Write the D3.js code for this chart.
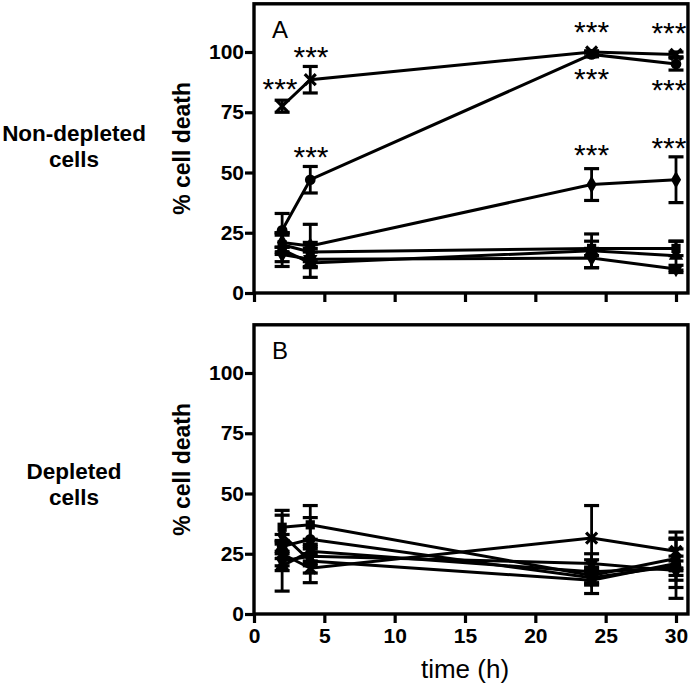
<!DOCTYPE html>
<html><head><meta charset="utf-8">
<script src="https://cdn.jsdelivr.net/npm/d3@7"></script>
<style>body{margin:0;background:#fff}svg{display:block}</style>
</head><body><svg id="c" width="693" height="686"></svg>
<script>
// ---- data ----
const times = [2, 4, 24, 30];
const xTicks = [0, 5, 10, 15, 20, 25, 30];
const yTicks = [0, 25, 50, 75, 100];

// Panel A: non-depleted cells
const aCircle = [26, 47, 99, 95];      const aCircleErr = [7, 5.5, 1, 2.5];
const aCross = [77.5, 88.5, 100, 99];  const aCrossErr = [2.5, 5.5, 0.5, 1];
const aDiamond = [21, 19.5, 45, 47];   const aDiamondErr = [4, 9, 6.6, 9.5];
const aSquare = [20, 17, 18.5, 18.5];  const aSquareErr = [4, 4, 3, 3];
const aTriUp = [18, 12.5, 17.5, 15.5]; const aTriUpErr = [7, 6, 7, 6];
const aTriDown = [16, 14, 14.5, 10];   const aTriDownErr = [3, 3, 4, 1.5];

// Panel B: depleted cells
const bCircle = [28, 31, 15, 20];      const bCircleErr = [5, 9, 3, 4];
const bSquare = [36, 37, 16, 23];      const bSquareErr = [7, 8, 3, 4];
const bTriUp = [20, 26, 17.5, 19];     const bTriUpErr = [10.5, 5, 5, 12.5];
const bTriDown = [22, 24, 21, 18];     const bTriDownErr = [4, 4, 4, 4];
const bDiamond = [33, 22, 14, 21];     const bDiamondErr = [8, 5, 5.5, 10];
const bCross = [25, 19, 31.5, 26];     const bCrossErr = [5, 6, 13.5, 8];

// significance marks (time, value at text centre)
const starsA = [[1.85, 87.5], [4.05, 100.8], [4.05, 59], [24, 111], [24, 91.3],
                [29.5, 110.4], [29.5, 87], [24, 60], [29.5, 62.7]];

// ---- drawing ----
const svg = d3.select('#c');
const x = d3.scaleLinear().domain([0, 30]).range([254, 676]);
const xEnd = 30.85;
const font = '"Liberation Sans", Arial, Helvetica, sans-serif';

function symbolPath(kind) {
  if (kind === 'circle') return d3.symbol(d3.symbolCircle, 90)();
  if (kind === 'square') return d3.symbol(d3.symbolSquare, 85)();
  if (kind === 'triUp') return d3.symbol(d3.symbolTriangle, 90)();
  if (kind === 'triDown') return d3.symbol(d3.symbolTriangle, 90)();
  if (kind === 'diamond') return d3.symbol(d3.symbolDiamond, 90)();
  return null;
}

function panel(yBottom, series, letter, stars) {
  const y = d3.scaleLinear().domain([0, 120]).range([yBottom, yBottom - 289.2]);
  const g = svg.append('g');
  // frame
  g.append('rect').attr('x', x(0)).attr('y', y(120)).attr('width', x(xEnd) - x(0))
    .attr('height', y(0) - y(120)).attr('fill', 'none').attr('stroke', '#000').attr('stroke-width', 3.4);
  // y axis
  const ya = g.append('g').attr('transform', `translate(${x(0)},0)`)
    .call(d3.axisLeft(y).tickValues(yTicks).tickSize(9).tickSizeOuter(0).tickPadding(1));
  ya.select('.domain').remove();
  ya.selectAll('line').attr('stroke-width', 3.2);
  ya.selectAll('text').attr('font-family', font).attr('font-weight', 'bold').attr('font-size', 21).attr('fill', '#000');
  // x axis
  const xa = g.append('g').attr('transform', `translate(0,${y(0)})`)
    .call(d3.axisBottom(x).tickValues(xTicks).tickSize(9).tickSizeOuter(0).tickPadding(5));
  xa.select('.domain').remove();
  xa.selectAll('line').attr('stroke-width', 3.2);
  if (letter === 'B') {
    xa.selectAll('text').attr('font-family', font).attr('font-weight', 'bold').attr('font-size', 21).attr('fill', '#000');
  } else {
    xa.selectAll('text').remove();
  }
  // letter
  g.append('text').attr('x', 272).attr('y', y(120) + 34).attr('font-family', font)
    .attr('font-size', 24).text(letter);
  // lines
  const line = d3.line().x((d, i) => x(times[i])).y(d => y(d));
  series.forEach(s => {
    g.append('path').attr('d', line(s.v)).attr('fill', 'none').attr('stroke', '#000').attr('stroke-width', 3);
  });
  // error bars
  series.forEach(s => {
    s.v.forEach((v, i) => {
      const cx = x(times[i]), e = s.e[i];
      const lo = y(v - e), hi = y(v + e);
      g.append('line').attr('x1', cx).attr('x2', cx).attr('y1', lo).attr('y2', hi).attr('stroke', '#000').attr('stroke-width', 2.8);
      [lo, hi].forEach(yy => g.append('line').attr('x1', cx - 7.5).attr('x2', cx + 7.5).attr('y1', yy).attr('y2', yy)
        .attr('stroke', '#000').attr('stroke-width', 3.2));
    });
  });
  // markers
  series.forEach(s => {
    s.v.forEach((v, i) => {
      const cx = x(times[i]), cy = y(v);
      if (s.k === 'cross') {
        const r = 5.5;
        g.append('path').attr('d', `M${cx - r},${cy - r}L${cx + r},${cy + r}M${cx - r},${cy + r}L${cx + r},${cy - r}`)
          .attr('stroke', '#000').attr('stroke-width', 3.2).attr('fill', 'none');
      } else {
        g.append('path').attr('d', symbolPath(s.k))
          .attr('transform', `translate(${cx},${cy})` + (s.k === 'triDown' ? ' rotate(180)' : ''))
          .attr('fill', '#000');
      }
    });
  });
  // stars
  stars.forEach(([t, v]) => {
    g.append('text').attr('x', x(t)).attr('y', y(v) + 16.5).attr('text-anchor', 'middle')
      .attr('font-family', font).attr('font-size', 30).text('***');
  });
  // y label
  g.append('text').attr('transform', `translate(190,${y(60)}) rotate(-90)`).attr('text-anchor', 'middle')
    .attr('font-family', font).attr('font-weight', 'bold').attr('font-size', 23).text('% cell death');
  return y;
}

panel(293, [
  {k: 'triDown', v: aTriDown, e: aTriDownErr},
  {k: 'triUp', v: aTriUp, e: aTriUpErr},
  {k: 'square', v: aSquare, e: aSquareErr},
  {k: 'diamond', v: aDiamond, e: aDiamondErr},
  {k: 'circle', v: aCircle, e: aCircleErr},
  {k: 'cross', v: aCross, e: aCrossErr}
], 'A', starsA);

panel(614, [
  {k: 'triDown', v: bTriDown, e: bTriDownErr},
  {k: 'triUp', v: bTriUp, e: bTriUpErr},
  {k: 'square', v: bSquare, e: bSquareErr},
  {k: 'diamond', v: bDiamond, e: bDiamondErr},
  {k: 'circle', v: bCircle, e: bCircleErr},
  {k: 'cross', v: bCross, e: bCrossErr}
], 'B', []);

// row labels
function rowLabel(lines, yBase) {
  lines.forEach((t, i) => svg.append('text').attr('x', 74).attr('y', yBase + i * 26).attr('text-anchor', 'middle')
    .attr('font-family', font).attr('font-weight', 'bold').attr('font-size', 22.5).text(t));
}
rowLabel(['Non-depleted', 'cells'], 141);
rowLabel(['Depleted', 'cells'], 479);

svg.append('text').attr('x', 465).attr('y', 678).attr('text-anchor', 'middle')
  .attr('font-family', font).attr('font-size', 26).text('time (h)');
</script></body></html>
